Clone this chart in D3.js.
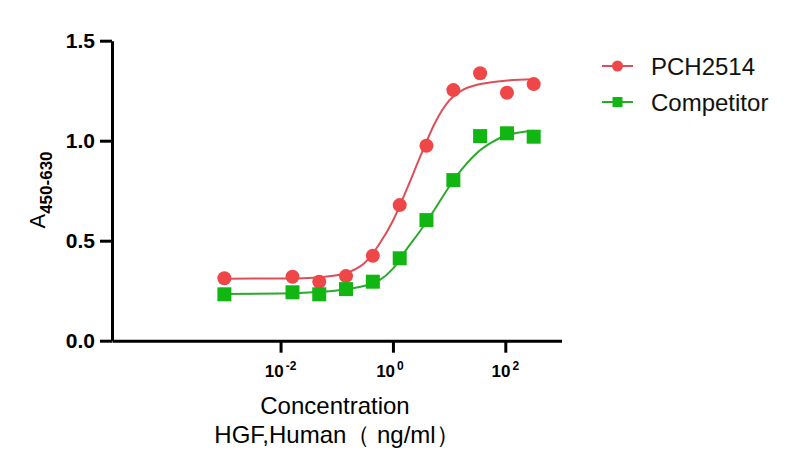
<!DOCTYPE html>
<html>
<head>
<meta charset="utf-8">
<script src="https://cdn.jsdelivr.net/npm/d3@7"></script>
<style>
  html, body { margin: 0; padding: 0; background: #fff; }
  svg { display: block; font-family: "Liberation Sans", Arial, sans-serif; }
</style>
</head>
<body>
<div id="chart"></div>
<script>
// measured points (ng/ml, A450-630)
const conc = [0.001, 0.0163, 0.0488, 0.146, 0.439, 1.32, 3.95, 11.9, 35.6, 107, 320];
const pch2514 = [0.312, 0.32, 0.295, 0.323, 0.425, 0.678, 0.975, 1.253, 1.337, 1.24, 1.283];
const competitor = [0.232, 0.242, 0.232, 0.258, 0.295, 0.412, 0.603, 0.803, 1.023, 1.037, 1.02];

// fitted curves
const curveConc = [0.001, 0.01, 0.0316, 0.1, 0.178, 0.316, 0.562, 1, 1.78, 3.16, 5.62, 10, 17.8, 31.6, 56.2, 100, 320];
const pchCurve = [0.31, 0.311, 0.314, 0.327, 0.347, 0.39, 0.48, 0.60, 0.76, 0.93, 1.09, 1.20, 1.255, 1.28, 1.292, 1.30, 1.307];
const compCurve = [0.234, 0.236, 0.241, 0.251, 0.261, 0.275, 0.30, 0.36, 0.46, 0.555, 0.66, 0.77, 0.865, 0.94, 0.99, 1.025, 1.05];

const yTicks = [0, 0.5, 1.0, 1.5];
const xTicks = [-2, 0, 2];

const width = 794, height = 469;
const svg = d3.select("#chart").append("svg")
    .attr("width", width)
    .attr("height", height);

const x = d3.scaleLog().domain([1e-5, 1e3]).range([112, 561.5]);
const y = d3.scaleLinear().domain([0, 1.5]).range([340.7, 40.7]);

const series = [
    { name: "PCH2514", values: pch2514, curve: pchCurve, line: "#dc4f58", fill: "#ef4648", shape: "circle" },
    { name: "Competitor", values: competitor, curve: compCurve, line: "#2aaa2a", fill: "#12b612", shape: "square" }
];

// axes
const yAxis = svg.append("g")
    .attr("transform", `translate(${x.range()[0]},0)`)
    .call(d3.axisLeft(y).tickValues(yTicks).tickFormat(d3.format(".1f")).tickSize(12).tickPadding(5).tickSizeOuter(0));
yAxis.select(".domain").attr("stroke", "#000").attr("stroke-width", 3);
yAxis.selectAll(".tick line").attr("stroke", "#000").attr("stroke-width", 3);
yAxis.selectAll(".tick text")
    .attr("fill", "#000")
    .style("font-size", "21px")
    .style("font-weight", "bold");

const xAxis = svg.append("g")
    .attr("transform", `translate(0,${y.range()[0]})`)
    .call(d3.axisBottom(x).tickValues(xTicks.map(p => Math.pow(10, p))).tickFormat("").tickSize(12).tickSizeOuter(0));
xAxis.select(".domain").attr("stroke", "#000").attr("stroke-width", 3);
xAxis.selectAll(".tick line").attr("stroke", "#000").attr("stroke-width", 3);

const xLab = svg.append("g").selectAll("text")
    .data(xTicks)
    .join("text")
    .attr("x", d => x(Math.pow(10, d)) - (d === 0 ? 3 : 0))
    .attr("y", 376.5)
    .attr("text-anchor", "middle")
    .style("font-weight", "bold")
    .style("font-size", "17px");
xLab.append("tspan").text("10");
xLab.append("tspan").attr("dy", -7).attr("dx", 2).style("font-size", "12px").text(d => String(d));

// axis titles
svg.append("text")
    .attr("x", 335)
    .attr("y", 414)
    .attr("text-anchor", "middle")
    .style("font-size", "24px")
    .text("Concentration");
svg.append("text")
    .attr("x", 337)
    .attr("y", 443)
    .attr("text-anchor", "middle")
    .style("font-size", "24px")
    .text("HGF,Human\uFF08 ng/ml\uFF09");

const yTitle = svg.append("text")
    .attr("transform", "translate(45,190) rotate(-90)")
    .attr("text-anchor", "middle");
yTitle.append("tspan").style("font-size", "22px").text("A");
yTitle.append("tspan").attr("dy", 6.5).style("font-size", "17px").style("font-weight", "bold").text("450-630");

// curves and markers
const line = d3.line()
    .x(d => x(d[0]))
    .y(d => y(d[1]))
    .curve(d3.curveMonotoneX);

series.forEach(s => {
    svg.append("path")
        .datum(curveConc.map((c, i) => [c, s.curve[i]]))
        .attr("fill", "none")
        .attr("stroke", s.line)
        .attr("stroke-width", 2)
        .attr("d", line);

    const pts = conc.map((c, i) => [c, s.values[i]]);
    if (s.shape === "circle") {
        svg.append("g").selectAll("circle")
            .data(pts)
            .join("circle")
            .attr("cx", d => x(d[0]))
            .attr("cy", d => y(d[1]))
            .attr("r", 7)
            .attr("fill", s.fill);
    } else {
        svg.append("g").selectAll("rect")
            .data(pts)
            .join("rect")
            .attr("x", d => x(d[0]) - 7)
            .attr("y", d => y(d[1]) - 7)
            .attr("width", 14)
            .attr("height", 14)
            .attr("fill", s.fill);
    }
});

// legend
const legend = svg.append("g").attr("transform", "translate(602,66)");
const item = legend.selectAll("g")
    .data(series)
    .join("g")
    .attr("transform", (d, i) => `translate(0,${i * 36})`);
item.append("line")
    .attr("x1", 0).attr("x2", 31)
    .attr("stroke", d => d.line)
    .attr("stroke-width", 2);
item.filter(d => d.shape === "circle").append("circle")
    .attr("cx", 15.5).attr("r", 5.5)
    .attr("fill", d => d.fill);
item.filter(d => d.shape === "square").append("rect")
    .attr("x", 10.5).attr("y", -5).attr("width", 10).attr("height", 10)
    .attr("fill", d => d.fill);
item.append("text")
    .attr("x", 49)
    .attr("y", 9)
    .style("font-size", "24px")
    .attr("fill", "#111")
    .text(d => d.name);
</script>
</body>
</html>
